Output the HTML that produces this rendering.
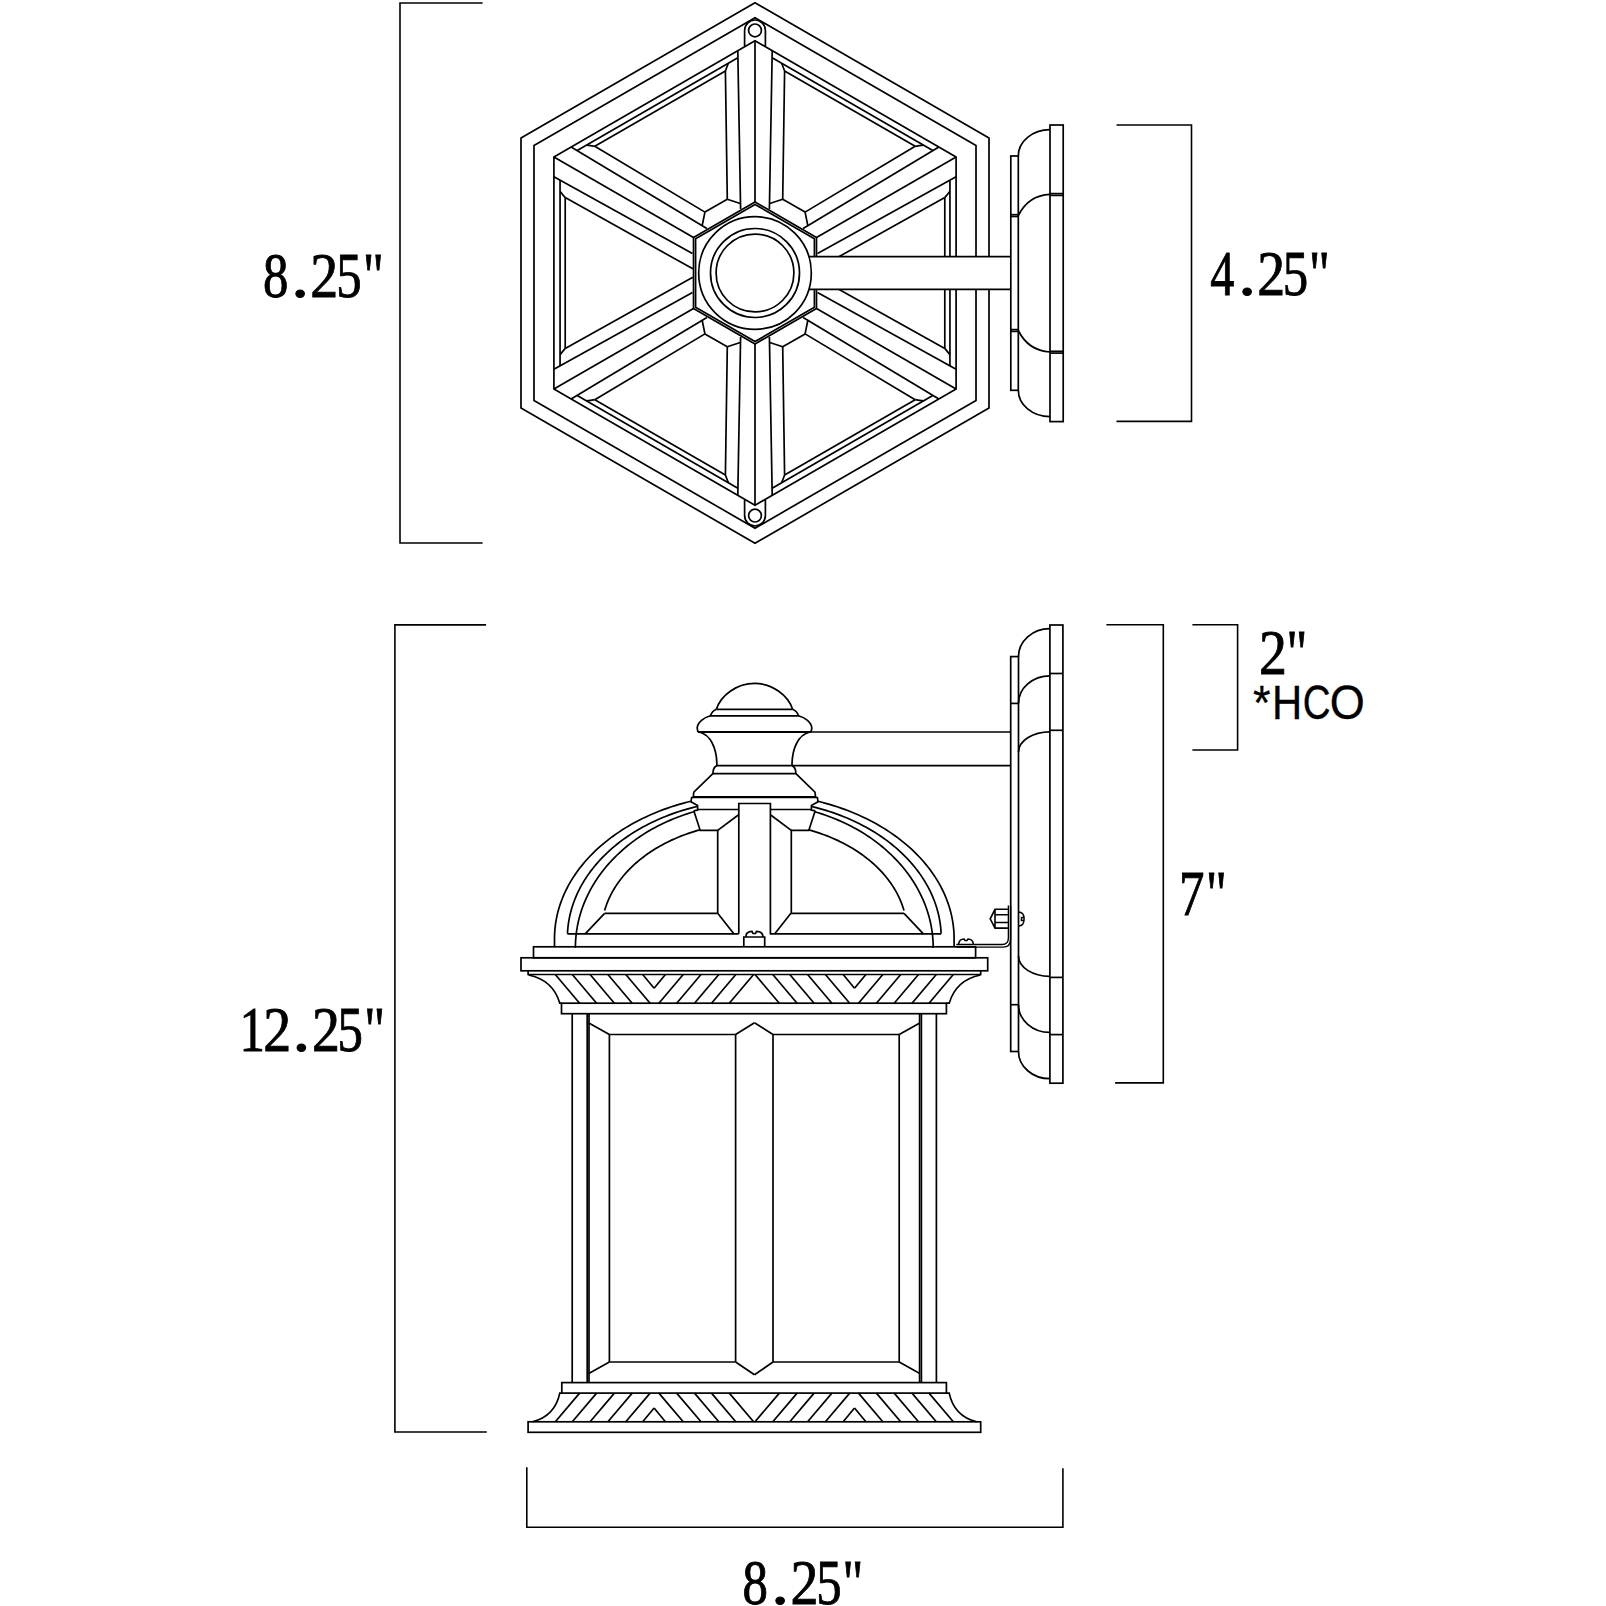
<!DOCTYPE html>
<html><head><meta charset="utf-8"><style>
html,body{margin:0;padding:0;background:#fff;width:1606px;height:1606px;overflow:hidden}
svg{display:block}
</style></head><body>
<svg width="1606" height="1606" viewBox="0 0 1606 1606">
<rect width="1606" height="1606" fill="#fff"/>
<g fill="none" stroke="#000" stroke-width="1.7" stroke-linejoin="miter" stroke-linecap="butt">
<path d="M755,2.8 L521,137.9 L521,408.1 L755,543.2 L989,408.1 L989,137.9 Z"/>
<path d="M755,17.8 L533.99,145.4 L533.99,400.6 L755,528.2 L976.01,400.6 L976.01,145.4 Z"/>
<path d="M755,40.8 L553.91,156.9 L553.91,389.1 L755,505.2 L956.09,389.1 L956.09,156.9 Z"/>
<line x1="755" y1="40.8" x2="755" y2="202"/>
<line x1="737.8" y1="50.73" x2="740.6" y2="209.11"/>
<line x1="725.4" y1="70.94" x2="727.3" y2="199.2"/>
<line x1="727.3" y1="199.2" x2="740.25" y2="203.5"/>
<path d="M725.4,70.94 Q727,66.52 728.4,63.26"/>
<line x1="772.2" y1="50.73" x2="769.4" y2="209.11"/>
<line x1="784.6" y1="70.94" x2="782.7" y2="199.2"/>
<line x1="782.7" y1="199.2" x2="769.75" y2="203.5"/>
<path d="M784.6,70.94 Q783,66.52 781.6,63.26"/>
<line x1="737.85" y1="57.8" x2="577.21" y2="150.55"/>
<line x1="725.4" y1="70.94" x2="594.81" y2="146.34"/>
<line x1="727.3" y1="199.2" x2="704.94" y2="212.11"/>
<line x1="553.91" y1="156.9" x2="693.51" y2="237.5"/>
<line x1="553.91" y1="176.76" x2="692.47" y2="253.53"/>
<line x1="565.21" y1="197.6" x2="692.82" y2="268.8"/>
<path d="M565.21,197.6 Q562.18,194.01 560.06,191.17"/>
<line x1="571.11" y1="146.97" x2="706.87" y2="228.59"/>
<line x1="594.81" y1="146.34" x2="704.94" y2="212.11"/>
<line x1="704.94" y1="212.11" x2="702.19" y2="225.48"/>
<path d="M594.81,146.34 Q590.18,145.51 586.66,145.09"/>
<line x1="560.06" y1="180.25" x2="560.06" y2="365.75"/>
<line x1="565.21" y1="197.6" x2="565.21" y2="348.4"/>
<line x1="553.91" y1="389.1" x2="693.51" y2="308.5"/>
<line x1="571.11" y1="399.03" x2="706.87" y2="317.41"/>
<line x1="594.81" y1="399.66" x2="704.94" y2="333.89"/>
<line x1="704.94" y1="333.89" x2="702.19" y2="320.52"/>
<path d="M594.81,399.66 Q590.18,400.49 586.66,400.91"/>
<line x1="553.91" y1="369.24" x2="692.47" y2="292.47"/>
<line x1="565.21" y1="348.4" x2="692.82" y2="277.2"/>
<path d="M565.21,348.4 Q562.18,351.99 560.06,354.83"/>
<line x1="577.21" y1="395.45" x2="737.85" y2="488.2"/>
<line x1="594.81" y1="399.66" x2="725.4" y2="475.06"/>
<line x1="704.94" y1="333.89" x2="727.3" y2="346.8"/>
<line x1="755" y1="505.2" x2="755" y2="344"/>
<line x1="772.2" y1="495.27" x2="769.4" y2="336.89"/>
<line x1="784.6" y1="475.06" x2="782.7" y2="346.8"/>
<line x1="782.7" y1="346.8" x2="769.75" y2="342.5"/>
<path d="M784.6,475.06 Q783,479.48 781.6,482.74"/>
<line x1="737.8" y1="495.27" x2="740.6" y2="336.89"/>
<line x1="725.4" y1="475.06" x2="727.3" y2="346.8"/>
<line x1="727.3" y1="346.8" x2="740.25" y2="342.5"/>
<path d="M725.4,475.06 Q727,479.48 728.4,482.74"/>
<line x1="772.15" y1="488.2" x2="932.79" y2="395.45"/>
<line x1="784.6" y1="475.06" x2="915.19" y2="399.66"/>
<line x1="782.7" y1="346.8" x2="805.06" y2="333.89"/>
<line x1="956.09" y1="389.1" x2="816.49" y2="308.5"/>
<line x1="956.09" y1="369.24" x2="817.53" y2="292.47"/>
<line x1="944.79" y1="348.4" x2="817.18" y2="277.2"/>
<path d="M944.79,348.4 Q947.82,351.99 949.94,354.83"/>
<line x1="938.89" y1="399.03" x2="803.13" y2="317.41"/>
<line x1="915.19" y1="399.66" x2="805.06" y2="333.89"/>
<line x1="805.06" y1="333.89" x2="807.81" y2="320.52"/>
<path d="M915.19,399.66 Q919.82,400.49 923.34,400.91"/>
<line x1="949.94" y1="365.75" x2="949.94" y2="180.25"/>
<line x1="944.79" y1="348.4" x2="944.79" y2="197.6"/>
<line x1="956.09" y1="156.9" x2="816.49" y2="237.5"/>
<line x1="938.89" y1="146.97" x2="803.13" y2="228.59"/>
<line x1="915.19" y1="146.34" x2="805.06" y2="212.11"/>
<line x1="805.06" y1="212.11" x2="807.81" y2="225.48"/>
<path d="M915.19,146.34 Q919.82,145.51 923.34,145.09"/>
<line x1="956.09" y1="176.76" x2="817.53" y2="253.53"/>
<line x1="944.79" y1="197.6" x2="817.18" y2="268.8"/>
<path d="M944.79,197.6 Q947.82,194.01 949.94,191.17"/>
<line x1="932.79" y1="150.55" x2="772.15" y2="57.8"/>
<line x1="915.19" y1="146.34" x2="784.6" y2="70.94"/>
<line x1="805.06" y1="212.11" x2="782.7" y2="199.2"/>
<path d="M744.6,46 L744.6,30.4 A10.4,10.4 0 0 1 765.4,30.4 L765.4,46"/>
<circle cx="755" cy="30.4" r="6.4"/>
<path d="M744.6,500 L744.6,515.6 A10.4,10.4 0 0 0 765.4,515.6 L765.4,500"/>
<circle cx="755" cy="515.6" r="6.4"/>
<path d="M755,202 L693.51,237.5 L693.51,308.5 L755,344 L816.49,308.5 L816.49,237.5 Z" fill="#fff"/>
<path d="M755,204.4 L695.59,238.7 L695.59,307.3 L755,341.6 L814.41,307.3 L814.41,238.7 Z"/>
<circle cx="755" cy="273" r="38.9"/>
<circle cx="755" cy="273" r="44.5"/>
<rect x="806" y="256.6" width="204.8" height="32.7" fill="#fff" stroke="none"/>
<line x1="809" y1="256.6" x2="1010.8" y2="256.6"/>
<line x1="809" y1="289.3" x2="1010.8" y2="289.3"/>
<circle cx="755" cy="273" r="56.3" fill="none"/>
<rect x="1050" y="125" width="13.2" height="296.6"/>
<rect x="1010.8" y="156" width="7.5" height="234.3"/>
<path d="M1018.3,156 A31.7,26.3 0 0 1 1050,129.7"/>
<path d="M1018.3,215.5 C1024,204 1034,195 1050,194.3"/>
<path d="M1018.3,330.5 C1024,342 1034,351 1050,352"/>
<path d="M1018.3,390.3 A31.7,26.4 0 0 0 1050,416.7"/>
<line x1="1050" y1="193.6" x2="1063.2" y2="193.6"/>
<line x1="1050" y1="195.4" x2="1063.2" y2="195.4"/>
<line x1="1050" y1="351.3" x2="1063.2" y2="351.3"/>
<line x1="1050" y1="353.1" x2="1063.2" y2="353.1"/>
<line x1="1010.8" y1="214.7" x2="1018.3" y2="214.7"/>
<line x1="1010.8" y1="216.5" x2="1018.3" y2="216.5"/>
<line x1="1010.8" y1="329.6" x2="1018.3" y2="329.6"/>
<line x1="1010.8" y1="331.4" x2="1018.3" y2="331.4"/>
<rect x="1049.9" y="625" width="13" height="458.2"/>
<rect x="1010.7" y="656.6" width="7.8" height="394.9"/>
<line x1="1049.9" y1="673.5" x2="1062.9" y2="673.5"/>
<line x1="1049.9" y1="730.3" x2="1062.9" y2="730.3"/>
<line x1="1049.9" y1="977.4" x2="1062.9" y2="977.4"/>
<line x1="1049.9" y1="1034.6" x2="1062.9" y2="1034.6"/>
<line x1="1010.7" y1="703.4" x2="1018.5" y2="703.4"/>
<line x1="1010.7" y1="1004.7" x2="1018.5" y2="1004.7"/>
<path d="M1018.5,656.6 A31.4,27.9 0 0 1 1049.9,628.7"/>
<path d="M1018.5,703.4 A31.4,27.6 0 0 1 1049.9,675.8"/>
<path d="M1018.5,752 A31.4,20.2 0 0 1 1049.9,731.8"/>
<path d="M1018.5,956.1 A31.4,20.2 0 0 0 1049.9,976.3"/>
<path d="M1018.5,1004.7 A31.4,27.7 0 0 0 1049.9,1032.4"/>
<path d="M1018.5,1051.5 A31.4,27.2 0 0 0 1049.9,1078.7"/>
<path d="M716.4,709.3 C721,695 737,683.4 754.5,683.4 C772,683.4 788,695 792.6,709.3"/>
<line x1="716.4" y1="709.3" x2="792.6" y2="709.3"/>
<path d="M716.4,709.3 Q712,711 710.4,715.8 L798.5,715.8 Q797,711 792.6,709.3"/>
<path d="M710.4,715.8 C704,717.5 697.5,722 697.2,728 L697.9,732 M811.1,732 L811.8,728 C811.5,722 805,717.5 798.5,715.8"/>
<line x1="697.9" y1="732" x2="811" y2="732" stroke-width="2.2"/>
<line x1="811" y1="732" x2="1010.7" y2="732"/>
<path d="M699.9,732.3 C710,735 716.9,747 716.9,765.6 M809.1,732.3 C799,735 792,747 792,765.6"/>
<line x1="716.9" y1="765.6" x2="1010.7" y2="765.6"/>
<path d="M716.9,765.6 Q713,767 712.9,773.6 L795.9,773.6 Q795.8,767 792,765.6"/>
<path d="M712.9,773.6 L694,792 Q693.2,794 693.6,797 M795.9,773.6 L814.8,792 Q815.6,794 815.2,797"/>
<line x1="692.8" y1="797.1" x2="816.2" y2="797.1" stroke-width="2.2"/>
<path d="M693.6,797.2 L691.6,797.6 L691,801.8 L697.6,805.4 L697.6,810 L693.8,810.8"/>
<path d="M697.6,809.5 L738.8,809.5"/>
<path d="M693.8,810.8 L700.2,830.4 L717.7,830.4 L717.7,913.3"/>
<path d="M717.7,830.4 L738.3,815"/>
<path d="M815.4,797.2 L817.4,797.6 L818,801.8 L811.4,805.4 L811.4,810 L815.2,810.8"/>
<path d="M811.4,809.5 L770.2,809.5"/>
<path d="M815.2,810.8 L808.8,830.4 L791.3,830.4 L791.3,913.3"/>
<path d="M791.3,830.4 L770.7,815"/>
<path d="M738.8,933.8 L738.8,803.5 L770.4,803.5 L770.4,933.8"/>
<path d="M554.5,947.3 L554.5,938.6 L554.54,935.59 L554.67,932.58 L554.89,929.58 L555.19,926.58 L555.58,923.58 L556.05,920.59 L556.61,917.61 L557.25,914.64 L557.98,911.67 L558.8,908.72 L559.7,905.78 L560.68,902.86 L561.75,899.95 L562.89,897.06 L564.13,894.19 L565.44,891.33 L566.84,888.5 L568.31,885.68 L569.87,882.89 L571.51,880.13 L573.22,877.39 L575.02,874.67 L576.89,871.99 L578.83,869.33 L580.86,866.7 L582.96,864.1 L585.13,861.54 L587.37,859.01 L589.69,856.51 L592.08,854.05 L594.54,851.62 L597.07,849.23 L599.66,846.88 L602.33,844.57 L605.05,842.31 L607.85,840.08 L610.7,837.89 L613.62,835.75 L616.6,833.65 L619.64,831.6 L622.73,829.59 L625.88,827.64 L629.09,825.72 L632.36,823.86 L635.67,822.05 L639.04,820.29 L642.45,818.57 L645.92,816.91 L649.43,815.31 L652.99,813.75 L656.59,812.25 L660.23,810.81 L663.91,809.42 L667.64,808.08 L671.4,806.8 L675.19,805.58 L679.02,804.41 L682.88,803.31 L686.78,802.26 L690.7,801.27"/>
<path d="M954.1,947.3 L954.1,938.6 L954.06,935.59 L953.93,932.58 L953.71,929.58 L953.41,926.58 L953.02,923.58 L952.55,920.59 L951.99,917.61 L951.35,914.64 L950.62,911.67 L949.8,908.72 L948.9,905.78 L947.92,902.86 L946.85,899.95 L945.71,897.06 L944.47,894.19 L943.16,891.33 L941.76,888.5 L940.29,885.68 L938.73,882.89 L937.09,880.13 L935.38,877.39 L933.58,874.67 L931.71,871.99 L929.77,869.33 L927.74,866.7 L925.64,864.1 L923.47,861.54 L921.23,859.01 L918.91,856.51 L916.52,854.05 L914.06,851.62 L911.53,849.23 L908.94,846.88 L906.27,844.57 L903.55,842.31 L900.75,840.08 L897.9,837.89 L894.98,835.75 L892,833.65 L888.96,831.6 L885.87,829.59 L882.72,827.64 L879.51,825.72 L876.24,823.86 L872.93,822.05 L869.56,820.29 L866.15,818.57 L862.68,816.91 L859.17,815.31 L855.61,813.75 L852.01,812.25 L848.37,810.81 L844.69,809.42 L840.96,808.08 L837.2,806.8 L833.41,805.58 L829.58,804.41 L825.72,803.31 L821.82,802.26 L817.9,801.27"/>
<path d="M567.4,933.8 L567.5,933.39 L567.66,930.57 L567.91,927.75 L568.23,924.94 L568.62,922.13 L569.1,919.34 L569.65,916.54 L570.28,913.76 L570.99,910.99 L571.77,908.23 L572.63,905.48 L573.56,902.74 L574.58,900.02 L575.66,897.32 L576.82,894.63 L578.06,891.96 L579.36,889.31 L580.75,886.68 L582.2,884.07 L583.73,881.48 L585.32,878.92 L586.99,876.38 L588.73,873.87 L590.53,871.38 L592.41,868.92 L594.35,866.49 L596.36,864.09 L598.44,861.73 L600.58,859.39 L602.78,857.08 L605.05,854.81 L607.38,852.58 L609.77,850.38 L612.23,848.21 L614.74,846.09 L617.31,844 L619.94,841.95 L622.62,839.94 L625.36,837.97 L628.15,836.05 L631,834.16 L633.89,832.32 L636.84,830.53 L639.84,828.77 L642.88,827.07 L645.97,825.41 L649.11,823.79 L652.29,822.23 L655.51,820.71 L658.77,819.24 L662.08,817.83 L665.42,816.46 L668.8,815.14 L672.21,813.87 L675.66,812.66 L679.15,811.5 L682.66,810.39 L686.2,809.33 L689.78,808.33 L693.38,807.38 L697,806.48"/>
<path d="M941.2,933.8 L941.1,933.39 L940.94,930.57 L940.69,927.75 L940.37,924.94 L939.98,922.13 L939.5,919.34 L938.95,916.54 L938.32,913.76 L937.61,910.99 L936.83,908.23 L935.97,905.48 L935.04,902.74 L934.02,900.02 L932.94,897.32 L931.78,894.63 L930.54,891.96 L929.24,889.31 L927.85,886.68 L926.4,884.07 L924.87,881.48 L923.28,878.92 L921.61,876.38 L919.87,873.87 L918.07,871.38 L916.19,868.92 L914.25,866.49 L912.24,864.09 L910.16,861.73 L908.02,859.39 L905.82,857.08 L903.55,854.81 L901.22,852.58 L898.83,850.38 L896.37,848.21 L893.86,846.09 L891.29,844 L888.66,841.95 L885.98,839.94 L883.24,837.97 L880.45,836.05 L877.6,834.16 L874.71,832.32 L871.76,830.53 L868.76,828.77 L865.72,827.07 L862.63,825.41 L859.49,823.79 L856.31,822.23 L853.09,820.71 L849.83,819.24 L846.52,817.83 L843.18,816.46 L839.8,815.14 L836.39,813.87 L832.94,812.66 L829.45,811.5 L825.94,810.39 L822.4,809.33 L818.82,808.33 L815.22,807.38 L811.6,806.48"/>
<path d="M575.4,947.7 L575.44,944.75 L575.55,941.8 L575.74,938.85 L576,935.91 L576.33,932.97 L576.74,930.04 L577.23,927.12 L577.78,924.2 L578.42,921.3 L579.12,918.4 L579.9,915.52 L580.75,912.65 L581.67,909.8 L582.67,906.96 L583.73,904.13 L584.87,901.33 L586.08,898.55 L587.36,895.78 L588.71,893.04 L590.13,890.32 L591.61,887.62 L593.17,884.95 L594.79,882.31 L596.48,879.69 L598.23,877.1 L600.05,874.54 L601.93,872.02 L603.88,869.52 L605.89,867.05 L607.96,864.62 L610.09,862.23 L612.29,859.87 L614.54,857.54 L616.85,855.25 L619.22,853.01 L621.64,850.8 L624.12,848.63 L626.65,846.5 L629.24,844.42 L631.88,842.38 L634.57,840.38 L637.31,838.43 L640.1,836.52 L642.94,834.66 L645.82,832.84 L648.75,831.08 L651.73,829.36 L654.74,827.69 L657.8,826.07 L660.9,824.51 L664.03,822.99 L667.21,821.53 L670.42,820.11 L673.66,818.76 L676.94,817.45 L680.26,816.2 L683.6,815 L686.97,813.86 L690.37,812.78 L693.8,811.75"/>
<path d="M933.2,947.7 L933.16,944.75 L933.05,941.8 L932.86,938.85 L932.6,935.91 L932.27,932.97 L931.86,930.04 L931.37,927.12 L930.82,924.2 L930.18,921.3 L929.48,918.4 L928.7,915.52 L927.85,912.65 L926.93,909.8 L925.93,906.96 L924.87,904.13 L923.73,901.33 L922.52,898.55 L921.24,895.78 L919.89,893.04 L918.47,890.32 L916.99,887.62 L915.43,884.95 L913.81,882.31 L912.12,879.69 L910.37,877.1 L908.55,874.54 L906.67,872.02 L904.72,869.52 L902.71,867.05 L900.64,864.62 L898.51,862.23 L896.31,859.87 L894.06,857.54 L891.75,855.25 L889.38,853.01 L886.96,850.8 L884.48,848.63 L881.95,846.5 L879.36,844.42 L876.72,842.38 L874.03,840.38 L871.29,838.43 L868.5,836.52 L865.66,834.66 L862.78,832.84 L859.85,831.08 L856.87,829.36 L853.86,827.69 L850.8,826.07 L847.7,824.51 L844.57,822.99 L841.39,821.53 L838.18,820.11 L834.94,818.76 L831.66,817.45 L828.34,816.2 L825,815 L821.63,813.86 L818.23,812.78 L814.8,811.75"/>
<path d="M604.6,910.57 L605.14,908.76 L605.71,906.97 L606.33,905.18 L606.99,903.39 L607.69,901.62 L608.44,899.85 L609.22,898.1 L610.05,896.35 L610.91,894.61 L611.82,892.89 L612.77,891.17 L613.75,889.47 L614.78,887.78 L615.84,886.1 L616.95,884.43 L618.09,882.78 L619.27,881.14 L620.49,879.52 L621.75,877.91 L623.04,876.32 L624.37,874.74 L625.74,873.18 L627.15,871.64 L628.59,870.11 L630.06,868.6 L631.57,867.11 L633.12,865.64 L634.7,864.18 L636.31,862.75 L637.96,861.33 L639.63,859.94 L641.35,858.56 L643.09,857.21 L644.86,855.87 L646.67,854.56 L648.5,853.27 L650.37,852.01 L652.26,850.76 L654.19,849.54 L656.14,848.34 L658.12,847.17 L660.12,846.02 L662.16,844.89 L664.22,843.79 L666.3,842.72 L668.41,841.67 L670.54,840.64 L672.7,839.64 L674.88,838.67 L677.08,837.72 L679.31,836.8 L681.55,835.91 L683.82,835.04 L686.1,834.2 L688.41,833.39 L690.73,832.61 L693.07,831.85 L695.43,831.13 L697.81,830.43 L700.2,829.76"/>
<path d="M904,910.57 L903.46,908.76 L902.89,906.97 L902.27,905.18 L901.61,903.39 L900.91,901.62 L900.16,899.85 L899.38,898.1 L898.55,896.35 L897.69,894.61 L896.78,892.89 L895.83,891.17 L894.85,889.47 L893.82,887.78 L892.76,886.1 L891.65,884.43 L890.51,882.78 L889.33,881.14 L888.11,879.52 L886.85,877.91 L885.56,876.32 L884.23,874.74 L882.86,873.18 L881.45,871.64 L880.01,870.11 L878.54,868.6 L877.03,867.11 L875.48,865.64 L873.9,864.18 L872.29,862.75 L870.64,861.33 L868.97,859.94 L867.25,858.56 L865.51,857.21 L863.74,855.87 L861.93,854.56 L860.1,853.27 L858.23,852.01 L856.34,850.76 L854.41,849.54 L852.46,848.34 L850.48,847.17 L848.48,846.02 L846.44,844.89 L844.38,843.79 L842.3,842.72 L840.19,841.67 L838.06,840.64 L835.9,839.64 L833.72,838.67 L831.52,837.72 L829.29,836.8 L827.05,835.91 L824.78,835.04 L822.5,834.2 L820.19,833.39 L817.87,832.61 L815.53,831.85 L813.17,831.13 L810.79,830.43 L808.4,829.76"/>
<path d="M567.4,933.8 L738.8,933.8"/>
<path d="M604.6,913.3 L717.7,913.3"/>
<path d="M717.7,913.3 L733.8,933.8"/>
<path d="M604.6,913.3 L585.2,933.8"/>
<path d="M690.7,802.3 L691,801.8"/>
<path d="M941.2,933.8 L769.8,933.8"/>
<path d="M904,913.3 L790.9,913.3"/>
<path d="M790.9,913.3 L774.8,933.8"/>
<path d="M904,913.3 L923.4,933.8"/>
<path d="M817.9,802.3 L817.6,801.8"/>
<path d="M743.8,946.8 L743.8,937 L764.7,937 L764.7,946.8"/>
<path d="M745.8,937 C745.8,933 748,931.3 752,931.3 L753,933.5 L755.5,933.5 L756.5,931.3 C760.5,931.3 763,933 763,937"/>
<rect x="533.5" y="946.8" width="442.1" height="11" fill="none"/>
<rect x="521" y="957.8" width="466.7" height="13" fill="none"/>
<path d="M528.1,970.8 L528.1,974.5 L980.7,974.5 L980.7,970.8"/>
<path d="M528.5,975 Q553,980 559.8,1003.2 L561.5,1003.2"/>
<path d="M980.5,975 Q956,980 949.2,1003.2 L946.4,1003.2"/>
<rect x="561.5" y="1003.2" width="384.9" height="10.5" fill="none"/>
<line x1="555.3" y1="974.5" x2="579.6" y2="1003.2"/>
<line x1="572.3" y1="974.5" x2="596.6" y2="1003.2"/>
<line x1="590.1" y1="974.5" x2="614.4" y2="1003.2"/>
<line x1="607.9" y1="974.5" x2="632.2" y2="1003.2"/>
<line x1="625.8" y1="974.5" x2="650.1" y2="1003.2"/>
<line x1="683.2" y1="974.5" x2="658.9" y2="1003.2"/>
<line x1="701" y1="974.5" x2="676.7" y2="1003.2"/>
<line x1="718.8" y1="974.5" x2="694.5" y2="1003.2"/>
<line x1="735.8" y1="974.5" x2="711.5" y2="1003.2"/>
<line x1="753.6" y1="974.5" x2="729.3" y2="1003.2"/>
<line x1="642.7" y1="974.5" x2="654.1" y2="988.3"/>
<line x1="654.1" y1="988.3" x2="665.4" y2="974.5"/>
<line x1="953.3" y1="974.5" x2="929" y2="1003.2"/>
<line x1="936.3" y1="974.5" x2="912" y2="1003.2"/>
<line x1="918.5" y1="974.5" x2="894.2" y2="1003.2"/>
<line x1="900.7" y1="974.5" x2="876.4" y2="1003.2"/>
<line x1="882.8" y1="974.5" x2="858.5" y2="1003.2"/>
<line x1="825.4" y1="974.5" x2="849.7" y2="1003.2"/>
<line x1="807.6" y1="974.5" x2="831.9" y2="1003.2"/>
<line x1="789.8" y1="974.5" x2="814.1" y2="1003.2"/>
<line x1="772.8" y1="974.5" x2="797.1" y2="1003.2"/>
<line x1="755" y1="974.5" x2="779.3" y2="1003.2"/>
<line x1="865.9" y1="974.5" x2="854.5" y2="988.3"/>
<line x1="854.5" y1="988.3" x2="843.2" y2="974.5"/>
<line x1="555.3" y1="1421.8" x2="579.6" y2="1393.1"/>
<line x1="572.3" y1="1421.8" x2="596.6" y2="1393.1"/>
<line x1="590.1" y1="1421.8" x2="614.4" y2="1393.1"/>
<line x1="607.9" y1="1421.8" x2="632.2" y2="1393.1"/>
<line x1="625.8" y1="1421.8" x2="650.1" y2="1393.1"/>
<line x1="683.2" y1="1421.8" x2="658.9" y2="1393.1"/>
<line x1="701" y1="1421.8" x2="676.7" y2="1393.1"/>
<line x1="718.8" y1="1421.8" x2="694.5" y2="1393.1"/>
<line x1="735.8" y1="1421.8" x2="711.5" y2="1393.1"/>
<line x1="753.6" y1="1421.8" x2="729.3" y2="1393.1"/>
<line x1="642.7" y1="1421.8" x2="654.1" y2="1408"/>
<line x1="654.1" y1="1408" x2="665.4" y2="1421.8"/>
<line x1="953.3" y1="1421.8" x2="929" y2="1393.1"/>
<line x1="936.3" y1="1421.8" x2="912" y2="1393.1"/>
<line x1="918.5" y1="1421.8" x2="894.2" y2="1393.1"/>
<line x1="900.7" y1="1421.8" x2="876.4" y2="1393.1"/>
<line x1="882.8" y1="1421.8" x2="858.5" y2="1393.1"/>
<line x1="825.4" y1="1421.8" x2="849.7" y2="1393.1"/>
<line x1="807.6" y1="1421.8" x2="831.9" y2="1393.1"/>
<line x1="789.8" y1="1421.8" x2="814.1" y2="1393.1"/>
<line x1="772.8" y1="1421.8" x2="797.1" y2="1393.1"/>
<line x1="755" y1="1421.8" x2="779.3" y2="1393.1"/>
<line x1="865.9" y1="1421.8" x2="854.5" y2="1408"/>
<line x1="854.5" y1="1408" x2="843.2" y2="1421.8"/>
<rect x="561.8" y="1382.6" width="384.6" height="10.5" fill="none"/>
<rect x="528.1" y="1421.8" width="452.6" height="10.5" fill="none"/>
<path d="M561.8,1393.1 L559.8,1393.1 Q555,1416 532.5,1421.8"/>
<path d="M946.4,1393.1 L949.2,1393.1 Q954,1416 976.5,1421.8"/>
<line x1="572.2" y1="1013.7" x2="572.2" y2="1382.6"/>
<line x1="587.2" y1="1013.7" x2="587.2" y2="1382.6"/>
<line x1="589" y1="1013.7" x2="589" y2="1382.6"/>
<line x1="609.4" y1="1034.5" x2="609.4" y2="1362"/>
<line x1="588.8" y1="1023" x2="609.4" y2="1034.5"/>
<line x1="588.8" y1="1373.5" x2="609.4" y2="1362"/>
<line x1="609.4" y1="1034.5" x2="735.6" y2="1034.5"/>
<line x1="609.4" y1="1362" x2="735.6" y2="1362"/>
<line x1="735.6" y1="1034.5" x2="735.6" y2="1362"/>
<line x1="735.6" y1="1034.5" x2="754.5" y2="1022.8"/>
<line x1="735.6" y1="1362" x2="754.5" y2="1374.8"/>
<line x1="936.4" y1="1013.7" x2="936.4" y2="1382.6"/>
<line x1="921.4" y1="1013.7" x2="921.4" y2="1382.6"/>
<line x1="919.6" y1="1013.7" x2="919.6" y2="1382.6"/>
<line x1="899.2" y1="1034.5" x2="899.2" y2="1362"/>
<line x1="919.8" y1="1023" x2="899.2" y2="1034.5"/>
<line x1="919.8" y1="1373.5" x2="899.2" y2="1362"/>
<line x1="899.2" y1="1034.5" x2="773" y2="1034.5"/>
<line x1="899.2" y1="1362" x2="773" y2="1362"/>
<line x1="773" y1="1034.5" x2="773" y2="1362"/>
<line x1="773" y1="1034.5" x2="754.5" y2="1022.8"/>
<line x1="773" y1="1362" x2="754.5" y2="1374.8"/>
<path d="M1008.4,905.6 L1008.4,938 Q1008.4,944.5 1002,944.5 L973.3,944.5" stroke-width="1.4"/>
<path d="M1010.6,905.6 L1010.6,939 Q1010.6,947.1 1003,947.1 L956.3,947.1" stroke-width="1.4"/>
<path d="M1007.9,909.3 L995,909.3 L990.2,918.8 L995,928.1 L1007.9,928.1 M995,909.3 L995,928.1 M995,914.8 L1007.9,914.8 M995,922.5 L1007.9,922.5" stroke-width="1.6"/>
<path d="M1018.5,912 C1023,912 1024.1,915 1024.1,919 C1024.1,923 1023,926 1018.5,926 M1024,917.5 L1021.5,917.5 L1021.5,920.5 L1024,920.5" stroke-width="1.5"/>
<path d="M958.7,944.5 C958.7,941 961,938.9 964,938.9 L965,940.5 L967,940.5 L968,938.9 C971,938.9 973.3,941 973.3,944.5" stroke-width="1.5"/>
<line x1="956.3" y1="944.5" x2="973.3" y2="944.5" stroke-width="1.5"/>
<path d="M482.6,3 L400,3 L400,543 L482.6,543" stroke-width="1.6"/>
<path d="M1116.5,125 L1191.5,125 L1191.5,421.4 L1116.5,421.4" stroke-width="1.6"/>
<path d="M486.1,624.9 L394.9,624.9 L394.9,1432 L486.8,1432" stroke-width="1.6"/>
<path d="M1106.4,624.8 L1163.3,624.8 L1163.3,1082.9 L1115.1,1082.9" stroke-width="1.6"/>
<path d="M1192.4,624.8 L1237.6,624.8 L1237.6,750 L1192.4,750" stroke-width="1.6"/>
<path d="M526.8,1467.2 L526.8,1527.2 L1062.9,1527.2 L1062.9,1468.2" stroke-width="1.6"/>
</g>
<g fill="#000" stroke="none">
<text transform="translate(275.7,296.8) scale(0.8,1)" x="0" y="0" text-anchor="middle" font-family="&quot;Liberation Serif&quot;, serif" font-size="63.5" stroke="#000" stroke-width="0.9">8</text>
<text transform="translate(300,296.8) scale(1.15,1)" x="0" y="0" text-anchor="middle" font-family="&quot;Liberation Serif&quot;, serif" font-size="63.5" stroke="#000" stroke-width="0.9">.</text>
<text transform="translate(324.3,296.8) scale(0.88,1)" x="0" y="0" text-anchor="middle" font-family="&quot;Liberation Serif&quot;, serif" font-size="63.5" stroke="#000" stroke-width="0.9">2</text>
<text transform="translate(349,296.8) scale(0.8,1)" x="0" y="0" text-anchor="middle" font-family="&quot;Liberation Serif&quot;, serif" font-size="63.5" stroke="#000" stroke-width="0.9">5</text>
<text transform="translate(373.4,296.8) scale(0.8,1)" x="0" y="0" text-anchor="middle" font-family="&quot;Liberation Serif&quot;, serif" font-size="63.5" stroke="#000" stroke-width="0.9">&quot;</text>
<text transform="translate(1222.2,295) scale(0.76,1)" x="0" y="0" text-anchor="middle" font-family="&quot;Liberation Serif&quot;, serif" font-size="63.5" stroke="#000" stroke-width="0.9">4</text>
<text transform="translate(1247.2,295) scale(1.15,1)" x="0" y="0" text-anchor="middle" font-family="&quot;Liberation Serif&quot;, serif" font-size="63.5" stroke="#000" stroke-width="0.9">.</text>
<text transform="translate(1271.2,295) scale(0.88,1)" x="0" y="0" text-anchor="middle" font-family="&quot;Liberation Serif&quot;, serif" font-size="63.5" stroke="#000" stroke-width="0.9">2</text>
<text transform="translate(1295.5,295) scale(0.8,1)" x="0" y="0" text-anchor="middle" font-family="&quot;Liberation Serif&quot;, serif" font-size="63.5" stroke="#000" stroke-width="0.9">5</text>
<text transform="translate(1319.3,295) scale(0.8,1)" x="0" y="0" text-anchor="middle" font-family="&quot;Liberation Serif&quot;, serif" font-size="63.5" stroke="#000" stroke-width="0.9">&quot;</text>
<text transform="translate(252.3,1051.3) scale(0.8,1)" x="0" y="0" text-anchor="middle" font-family="&quot;Liberation Serif&quot;, serif" font-size="63.5" stroke="#000" stroke-width="0.9">1</text>
<text transform="translate(277.3,1051.3) scale(0.88,1)" x="0" y="0" text-anchor="middle" font-family="&quot;Liberation Serif&quot;, serif" font-size="63.5" stroke="#000" stroke-width="0.9">2</text>
<text transform="translate(301.3,1051.3) scale(1.15,1)" x="0" y="0" text-anchor="middle" font-family="&quot;Liberation Serif&quot;, serif" font-size="63.5" stroke="#000" stroke-width="0.9">.</text>
<text transform="translate(325.9,1051.3) scale(0.88,1)" x="0" y="0" text-anchor="middle" font-family="&quot;Liberation Serif&quot;, serif" font-size="63.5" stroke="#000" stroke-width="0.9">2</text>
<text transform="translate(350.2,1051.3) scale(0.8,1)" x="0" y="0" text-anchor="middle" font-family="&quot;Liberation Serif&quot;, serif" font-size="63.5" stroke="#000" stroke-width="0.9">5</text>
<text transform="translate(374.7,1051.3) scale(0.8,1)" x="0" y="0" text-anchor="middle" font-family="&quot;Liberation Serif&quot;, serif" font-size="63.5" stroke="#000" stroke-width="0.9">&quot;</text>
<text transform="translate(755.3,1603.6) scale(0.8,1)" x="0" y="0" text-anchor="middle" font-family="&quot;Liberation Serif&quot;, serif" font-size="63.5" stroke="#000" stroke-width="0.9">8</text>
<text transform="translate(780.1,1603.6) scale(1.15,1)" x="0" y="0" text-anchor="middle" font-family="&quot;Liberation Serif&quot;, serif" font-size="63.5" stroke="#000" stroke-width="0.9">.</text>
<text transform="translate(804.5,1603.6) scale(0.88,1)" x="0" y="0" text-anchor="middle" font-family="&quot;Liberation Serif&quot;, serif" font-size="63.5" stroke="#000" stroke-width="0.9">2</text>
<text transform="translate(828.9,1603.6) scale(0.8,1)" x="0" y="0" text-anchor="middle" font-family="&quot;Liberation Serif&quot;, serif" font-size="63.5" stroke="#000" stroke-width="0.9">5</text>
<text transform="translate(852.9,1603.6) scale(0.8,1)" x="0" y="0" text-anchor="middle" font-family="&quot;Liberation Serif&quot;, serif" font-size="63.5" stroke="#000" stroke-width="0.9">&quot;</text>
<text transform="translate(1273,674) scale(0.88,1)" x="0" y="0" text-anchor="middle" font-family="&quot;Liberation Serif&quot;, serif" font-size="63.5" stroke="#000" stroke-width="0.9">2</text>
<text transform="translate(1296.8,674) scale(0.8,1)" x="0" y="0" text-anchor="middle" font-family="&quot;Liberation Serif&quot;, serif" font-size="63.5" stroke="#000" stroke-width="0.9">&quot;</text>
<text transform="translate(1191.8,915.2) scale(0.8,1)" x="0" y="0" text-anchor="middle" font-family="&quot;Liberation Serif&quot;, serif" font-size="63.5" stroke="#000" stroke-width="0.9">7</text>
<text transform="translate(1216.3,915.2) scale(0.8,1)" x="0" y="0" text-anchor="middle" font-family="&quot;Liberation Serif&quot;, serif" font-size="63.5" stroke="#000" stroke-width="0.9">&quot;</text>
<text transform="translate(1261.8,719.2) scale(0.95,1)" x="0" y="0" text-anchor="middle" font-family="&quot;Liberation Sans&quot;, sans-serif" font-size="47.5" stroke="#000" stroke-width="0.3">*</text>
<text transform="translate(1287.1,719.2) scale(0.88,1)" x="0" y="0" text-anchor="middle" font-family="&quot;Liberation Sans&quot;, sans-serif" font-size="47.5" stroke="#000" stroke-width="0.3">H</text>
<text transform="translate(1316.6,719.2) scale(0.81,1)" x="0" y="0" text-anchor="middle" font-family="&quot;Liberation Sans&quot;, sans-serif" font-size="47.5" stroke="#000" stroke-width="0.3">C</text>
<text transform="translate(1347.4,719.2) scale(0.95,1)" x="0" y="0" text-anchor="middle" font-family="&quot;Liberation Sans&quot;, sans-serif" font-size="47.5" stroke="#000" stroke-width="0.3">O</text>
</g>
</svg>
</body></html>
